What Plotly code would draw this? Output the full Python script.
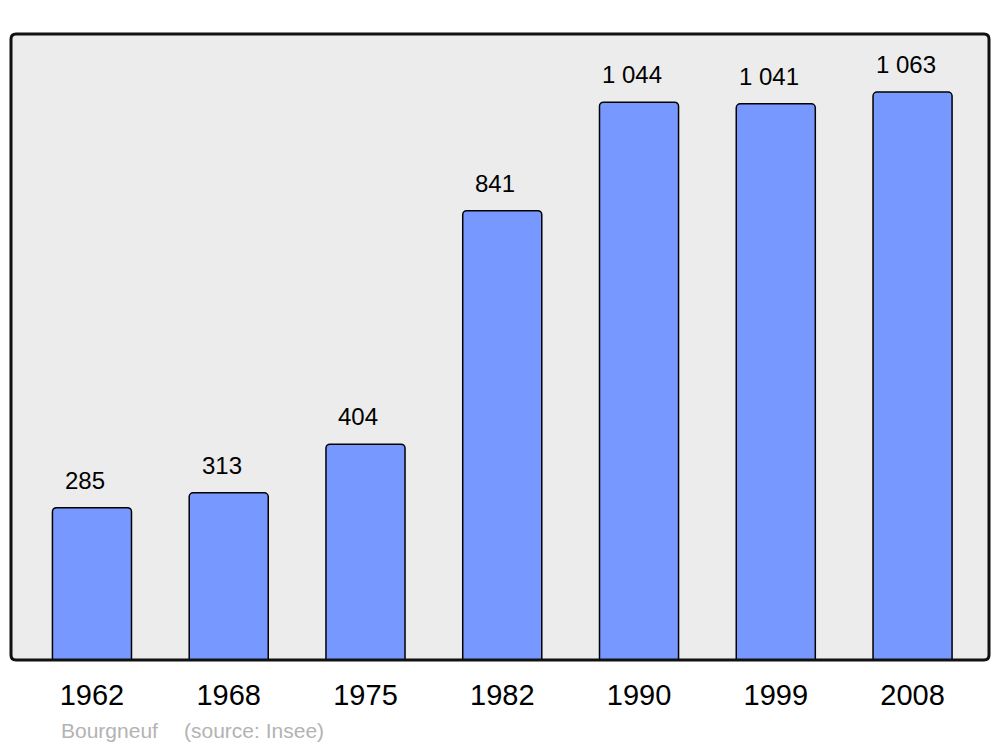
import plotly.graph_objects as go

years = ["1962", "1968", "1975", "1982", "1990", "1999", "2008"]
population = [285, 313, 404, 841, 1044, 1041, 1063]
commune = "Bourgneuf"
source = "(source: Insee)"

positions = list(range(len(years)))


def fmt(v):
    return f"{v:,}".replace(",", " ")


# page body has an 8px default margin; compensate so the frame lands where the reference has it
OFF = 8
W, H = 1000 - 2 * OFF, 747 - OFF
ml, mt = 11 - OFF, 34 - OFF
pw, ph = 978, 626
mr = W - ml - pw
mb = H - mt - ph

fig = go.Figure()
fig.add_trace(go.Bar(
    x=positions,
    y=population,
    width=0.578,
    marker=dict(color="#7799ff", line=dict(color="#000000", width=1.5), cornerradius=4),
    hoverinfo="skip",
))

rx, ry = 5 / pw, 5 / ph


def rounded_path():
    return (f"M {rx},0 L {1-rx},0 Q 1,0 1,{ry} L 1,{1-ry} Q 1,1 {1-rx},1 "
            f"L {rx},1 Q 0,1 0,{1-ry} L 0,{ry} Q 0,0 {rx},0 Z")


shapes = [
    dict(type="path", xref="paper", yref="paper", path=rounded_path(),
         fillcolor="#ececec", line=dict(width=0), layer="below"),
    dict(type="path", xref="paper", yref="paper", path=rounded_path(),
         fillcolor="rgba(0,0,0,0)", line=dict(color="#111111", width=3), layer="above"),
]

FONT = "Liberation Sans, Arial, sans-serif"
annotations = []
for p, v in zip(positions, population):
    annotations.append(dict(
        x=p, y=v, xref="x", yref="y", text=fmt(v), showarrow=False,
        yanchor="bottom", yshift=12, xshift=-7,
        font=dict(family=FONT, size=24, color="#000000"),
    ))


def page_to_paper(px, py):
    fx, fy = px - OFF, py - OFF
    return (fx - ml) / pw, (mt + ph - fy) / ph


for txt, px in [(commune, 59), (source, 182)]:
    ax, ay = page_to_paper(px, 730)
    annotations.append(dict(
        x=ax, y=ay, xref="paper", yref="paper", text=txt, showarrow=False,
        xanchor="left", yanchor="middle",
        font=dict(family=FONT, size=21, color="#b3b3b3"),
    ))

fig.update_layout(
    width=W, height=H,
    margin=dict(l=ml, r=mr, t=mt, b=mb, pad=0),
    paper_bgcolor="#ffffff",
    plot_bgcolor="rgba(0,0,0,0)",
    showlegend=False,
    shapes=shapes,
    annotations=annotations,
    xaxis=dict(
        range=[-0.592, 6.559], tickvals=positions, ticktext=years,
        showgrid=False, zeroline=False, showline=False,
        ticks="outside", ticklen=9, tickcolor="rgba(0,0,0,0)",
        tickfont=dict(family=FONT, size=29, color="#000000"),
        fixedrange=True,
    ),
    yaxis=dict(
        range=[0, 1171.6], showgrid=False, zeroline=False, showline=False,
        showticklabels=False, fixedrange=True,
    ),
)

fig.write_html("out.html")
